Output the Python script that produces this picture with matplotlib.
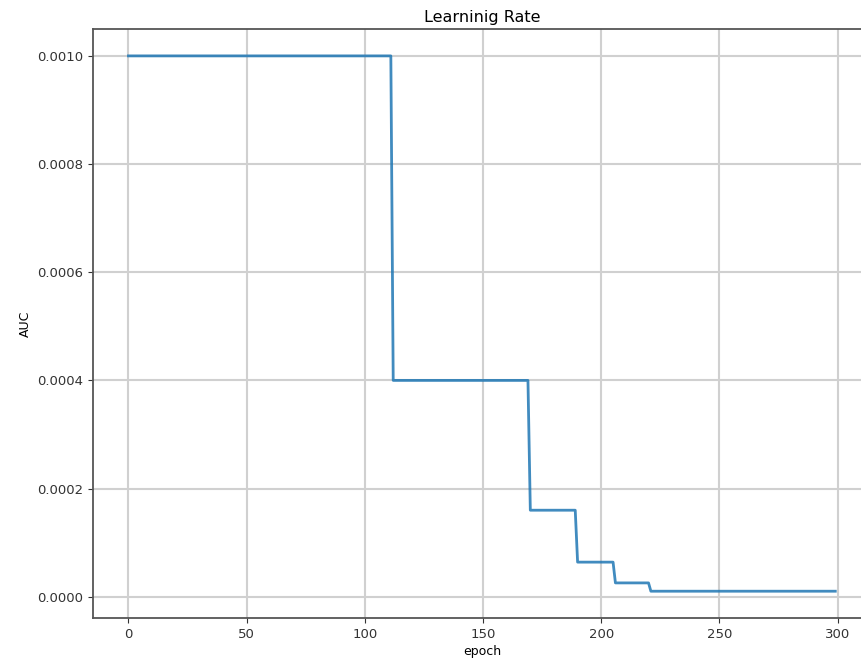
import numpy as np
import matplotlib
matplotlib.use('Agg')
import matplotlib.pyplot as plt

# epoch where each learning-rate level starts, and the level itself
step_starts = [0, 112, 170, 190, 206, 221]
lr_levels = [0.001, 0.0004, 0.00016, 0.000064, 0.0000256, 0.00001024]
n_epochs = 300

# per-epoch learning rate built from the read-off steps
counts = np.diff(step_starts + [n_epochs])
lr = np.repeat(lr_levels, counts)
epochs = np.arange(n_epochs)

fig = plt.figure(figsize=(8.62, 6.62), dpi=100)
ax = fig.add_axes([0.108, 0.0665, 0.902, 0.8895])

ax.plot(epochs, lr, color='#1f77b4', linewidth=2, alpha=0.85)

ax.set_title('Learninig Rate', fontsize=11.5, pad=5)
ax.set_xlabel('epoch', fontsize=9, labelpad=3)
ax.set_ylabel('AUC', fontsize=9)
ax.set_xticks([0, 50, 100, 150, 200, 250, 300])
ax.set_yticks([0.0, 0.0002, 0.0004, 0.0006, 0.0008, 0.001])
ax.set_yticklabels(['0.0000', '0.0002', '0.0004', '0.0006', '0.0008', '0.0010'])
ax.tick_params(labelsize=9.5, colors='#333333')
ax.grid(True, color='#d0d0d0', linewidth=1.5)
for s in ax.spines.values():
    s.set_color('#555555')
    s.set_linewidth(1.3)

fig.savefig('out.png', dpi=100, facecolor='white')
